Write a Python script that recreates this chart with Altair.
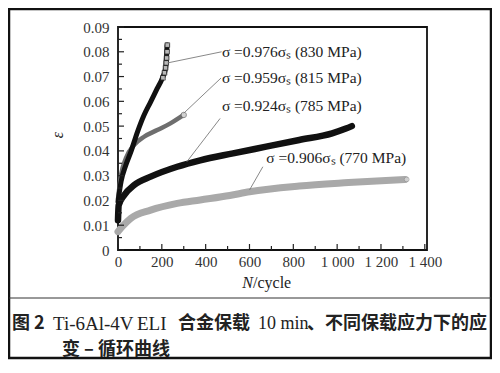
import altair as alt
import pandas as pd

# ---- data ----
N1 = [0, 14, 36, 59, 89, 119, 149, 179, 202, 217, 224]
E1 = [0.0195, 0.0276, 0.0343, 0.0397, 0.0477, 0.0545, 0.0598, 0.0652, 0.0693, 0.0733, 0.0827]
N1_tip = [205, 212, 217, 220, 222, 224, 225]
E1_tip = [0.0695, 0.0715, 0.0735, 0.0755, 0.0775, 0.0800, 0.0827]

N2 = [0, 14, 36, 74, 119, 179, 239, 300]
E2 = [0.0205, 0.0303, 0.037, 0.0424, 0.0457, 0.0484, 0.0511, 0.0545]

N3 = [0, 3, 29, 74, 149, 270, 375, 525, 676, 827, 977, 1040, 1067]
E3 = [0.012, 0.018, 0.0222, 0.0262, 0.0296, 0.0336, 0.0362, 0.039, 0.0417, 0.0444, 0.0471, 0.0490, 0.050]

N4 = [0, 20, 59, 149, 270, 375, 510, 600, 827, 1052, 1309]
E4 = [0.0074, 0.0095, 0.0128, 0.0161, 0.0188, 0.0202, 0.022, 0.0235, 0.0258, 0.0272, 0.0285]

labels = ["σ =0.976σₛ (830 MPa)", "σ =0.959σₛ (815 MPa)", "σ =0.924σₛ (785 MPa)", "σ =0.906σₛ (770 MPa)"]
label_N = [474, 474, 474, 677]
label_E = [0.0799, 0.0694, 0.0581, 0.0371]

lead_N1 = [226, 300, 466, 661]
lead_E1 = [0.0755, 0.0552, 0.0531, 0.0336]
lead_N2 = [473, 470, 314, 600]
lead_E2 = [0.0800, 0.0694, 0.0356, 0.0242]

x_ticks = [0, 200, 400, 600, 800, 1000, 1200, 1400]
x_minor = [100, 300, 500, 700, 900, 1100, 1300]
y_ticks = [0, 0.01, 0.02, 0.03, 0.04, 0.05, 0.06, 0.07, 0.08, 0.09]
y_minor = [0.005, 0.015, 0.025, 0.035, 0.045, 0.055, 0.065, 0.075, 0.085]

W, H = 309, 223
SERIF = "Liberation Serif"
CJK = "Noto Sans CJK SC"

xs = alt.Scale(domain=[0, 1410], nice=False, zero=False)
ys = alt.Scale(domain=[0, 0.09], nice=False)

AX_X = alt.Axis(values=x_ticks, ticks=False, domain=False, grid=False, labelPadding=4,
                labelOverlap=False, labelFlush=False, title=None,
                labelFont=SERIF, labelFontSize=15, labelColor="#333",
                labelExpr="datum.value >= 1000 ? '1 ' + format(datum.value - 1000, '03d') : format(datum.value, 'd')")
AX_Y = alt.Axis(values=y_ticks, ticks=False, domain=False, grid=False, labelPadding=9,
                labelOverlap=False, labelFlush=False, title=None,
                labelFont=SERIF, labelFontSize=15, labelColor="#333",
                labelExpr="datum.value == 0 ? '0' : format(datum.value, '.2f')")

def X(f="N:Q"):
    return alt.X(f, scale=xs, axis=AX_X, title=None)

def Y(f="E:Q"):
    return alt.Y(f, scale=ys, axis=AX_Y, title=None)

def curve(n, e, color, sw):
    df = pd.DataFrame({"N": n, "E": e})
    return alt.Chart(df).mark_line(color=color, strokeWidth=sw, interpolate="monotone", strokeCap="round").encode(
        x=X(), y=Y())

xt_major = alt.Chart(pd.DataFrame({"N": x_ticks})).mark_rule(color="#222", strokeWidth=1.2).encode(
    x=X(), y=alt.value(H), y2=alt.value(H - 6))
xt_minor = alt.Chart(pd.DataFrame({"N": x_minor})).mark_rule(color="#222", strokeWidth=1.2).encode(
    x=X(), y=alt.value(H), y2=alt.value(H - 4))
yt_major = alt.Chart(pd.DataFrame({"E": y_ticks})).mark_rule(color="#222", strokeWidth=1.2).encode(
    y=Y(), x=alt.value(0), x2=alt.value(6))
yt_minor = alt.Chart(pd.DataFrame({"E": y_minor})).mark_rule(color="#222", strokeWidth=1.2).encode(
    y=Y(), x=alt.value(0), x2=alt.value(4))

c4 = curve(N4, E4, "#a9a9a9", 7)
c3 = curve(N3, E3, "#111111", 6.5)
c2 = curve(N2, E2, "#6e6e6e", 4.5)
c1 = curve(N1, E1, "#111111", 5)

tip = alt.Chart(pd.DataFrame({"N": N1_tip, "E": E1_tip})).mark_point(
    shape="square", size=22, filled=True, fill="white", stroke="#222", strokeWidth=1).encode(
    x=X(), y=Y())
end2 = alt.Chart(pd.DataFrame({"N": [N2[-1]], "E": [E2[-1]]})).mark_point(
    shape="circle", size=30, filled=True, fill="white", stroke="#666", strokeWidth=1).encode(
    x=X(), y=Y())
end4 = alt.Chart(pd.DataFrame({"N": [N4[-1] + 8], "E": [E4[-1]]})).mark_point(
    shape="circle", size=24, filled=True, fill="#e0e0e0", stroke="#999", strokeWidth=1).encode(
    x=X(), y=Y())

leads = alt.Chart(pd.DataFrame({"N": lead_N1, "E": lead_E1, "N2": lead_N2, "E2": lead_E2})).mark_rule(
    color="#7a7a7a", strokeWidth=0.9).encode(
    x=X(), y=Y(), x2="N2:Q", y2="E2:Q")

ann = alt.Chart(pd.DataFrame({"N": label_N, "E": label_E, "t": labels})).mark_text(
    align="left", baseline="middle", font=SERIF, fontSize=15.5, color="#222").encode(
    x=X(), y=Y(), text="t:N")

one = alt.Data(values=[{"a": 1}])

def txt(s, x, y, font=SERIF, size=14, style="normal", weight="normal", align="left", angle=0, color="#222"):
    return alt.Chart(one).mark_text(text=s, font=font, fontSize=size, fontStyle=style, fontWeight=weight,
                                    align=align, baseline="middle", angle=angle, color=color).encode(
        x=alt.value(x), y=alt.value(y))

ytitle = txt("ε", -60, 108, size=16, style="italic", align="center", angle=270)
xtitle_n = txt("N", 135, 256, size=16, style="italic", align="right")
xtitle_c = txt("/cycle", 135, 256, size=16)

frame = alt.Chart(one).mark_rect(fill=None, stroke="#111", strokeWidth=2.5).encode(
    x=alt.value(-109), x2=alt.value(373), y=alt.value(-18), y2=alt.value(331))
sep = alt.Chart(one).mark_rule(color="#333", strokeWidth=1).encode(
    x=alt.value(-109), x2=alt.value(373), y=alt.value(271))

cap = [
    txt("图 2", -106, 297, font=CJK, size=18, weight="bold"),
    txt("Ti-6Al-4V", -65, 297, size=19),
    txt("ELI", 19, 297, size=19),
    txt("合金保载", 60, 297, font=CJK, size=18, weight="bold"),
    txt("10 min", 140, 297, size=18),
    txt("、不同保载应力下的应", 189, 297, font=CJK, size=18, weight="bold"),
    txt("变 – 循环曲线", -56, 323, font=CJK, size=18, weight="bold"),
]

chart = alt.layer(
    c4, c3, c2, c1, tip, end2, end4, leads, ann,
    xt_major, xt_minor, yt_major, yt_minor, ytitle, xtitle_n, xtitle_c, frame, sep, *cap
).properties(
    width=W, height=H,
    autosize=alt.AutoSizeParams(type="none"),
    padding={"left": 110, "top": 19, "right": 65, "bottom": 110},
    background="white",
).configure_view(stroke="#111", strokeWidth=1.8).configure_axis(labelOverlap=False)

chart.save("out.html", embed_options={"renderer": "svg", "actions": False})
